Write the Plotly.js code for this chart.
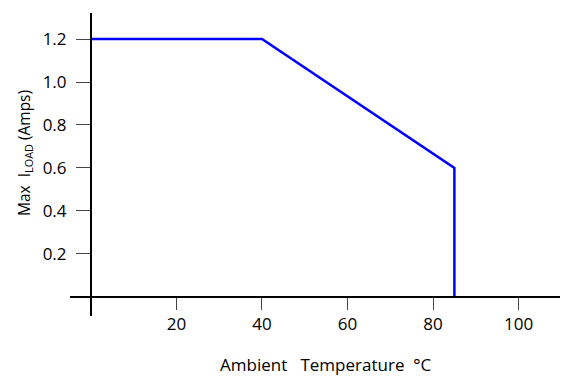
<!DOCTYPE html>
<html>
<head>
<meta charset="utf-8">
<script src="https://cdn.plot.ly/plotly-3.0.1.min.js"></script>
<style>html,body{margin:0;padding:0;background:#fff;}#chart{width:567px;height:376px;}</style>
</head>
<body>
<div id="chart"></div>
<script>
var temperatureC = [0, 40, 85, 85];
var maxLoadAmps = [1.2, 1.2, 0.6, 0];
var xTickVals = [20, 40, 60, 80, 100];
var yTickVals = [0.2, 0.4, 0.6, 0.8, 1.0, 1.2];

var xRange = [-4.9, 109.7];
var yRange = [-0.0886, 1.321];
var fontFam = '"Open Sans", "DejaVu Sans", sans-serif';

var trace = {
  x: temperatureC,
  y: maxLoadAmps,
  type: 'scatter',
  mode: 'lines',
  line: {color: '#0000ff', width: 2.5},
  hoverinfo: 'skip'
};

var layout = {
  width: 567,
  height: 376,
  margin: {l: 70, r: 7, t: 13, b: 60},
  paper_bgcolor: '#ffffff',
  plot_bgcolor: '#ffffff',
  showlegend: false,
  font: {family: fontFam, size: 16, color: '#000'},
  xaxis: {
    range: xRange,
    anchor: 'free',
    position: (0 - yRange[0]) / (yRange[1] - yRange[0]),
    showline: true, linecolor: '#000', linewidth: 2,
    showgrid: false, zeroline: false,
    tickmode: 'array', tickvals: xTickVals,
    ticks: 'outside', ticklen: 12, tickcolor: '#444', tickwidth: 1,
    ticklabelstandoff: 0,
    tickfont: {family: fontFam, size: 17, color: '#000'}
  },
  yaxis: {
    range: yRange,
    anchor: 'free',
    position: (0 - xRange[0]) / (xRange[1] - xRange[0]),
    showline: true, linecolor: '#000', linewidth: 2,
    showgrid: false, zeroline: false,
    tickmode: 'array', tickvals: yTickVals, tickformat: '.1f',
    ticks: 'outside', ticklen: 14, tickcolor: '#444', tickwidth: 1,
    ticklabelstandoff: 6,
    tickfont: {family: fontFam, size: 17, color: '#000'}
  },
  annotations: [
    {
      text: 'Ambient   Temperature  °C',
      xref: 'paper', yref: 'paper', x: (326 - 70) / 490, y: -(364 - 316) / 303,
      xanchor: 'center', yanchor: 'middle', showarrow: false,
      font: {family: fontFam, size: 17, color: '#000'}
    },
    {
      text: 'Max  I<sub>LOAD</sub> (Amps)',
      xref: 'paper', yref: 'paper', x: -(70 - 24) / 490, y: (316 - 153) / 303,
      xanchor: 'center', yanchor: 'middle', showarrow: false, textangle: -90,
      font: {family: fontFam, size: 15.5, color: '#000'}
    }
  ]
};

Plotly.newPlot('chart', [trace], layout, {displayModeBar: false, staticPlot: true});
</script>
</body>
</html>
